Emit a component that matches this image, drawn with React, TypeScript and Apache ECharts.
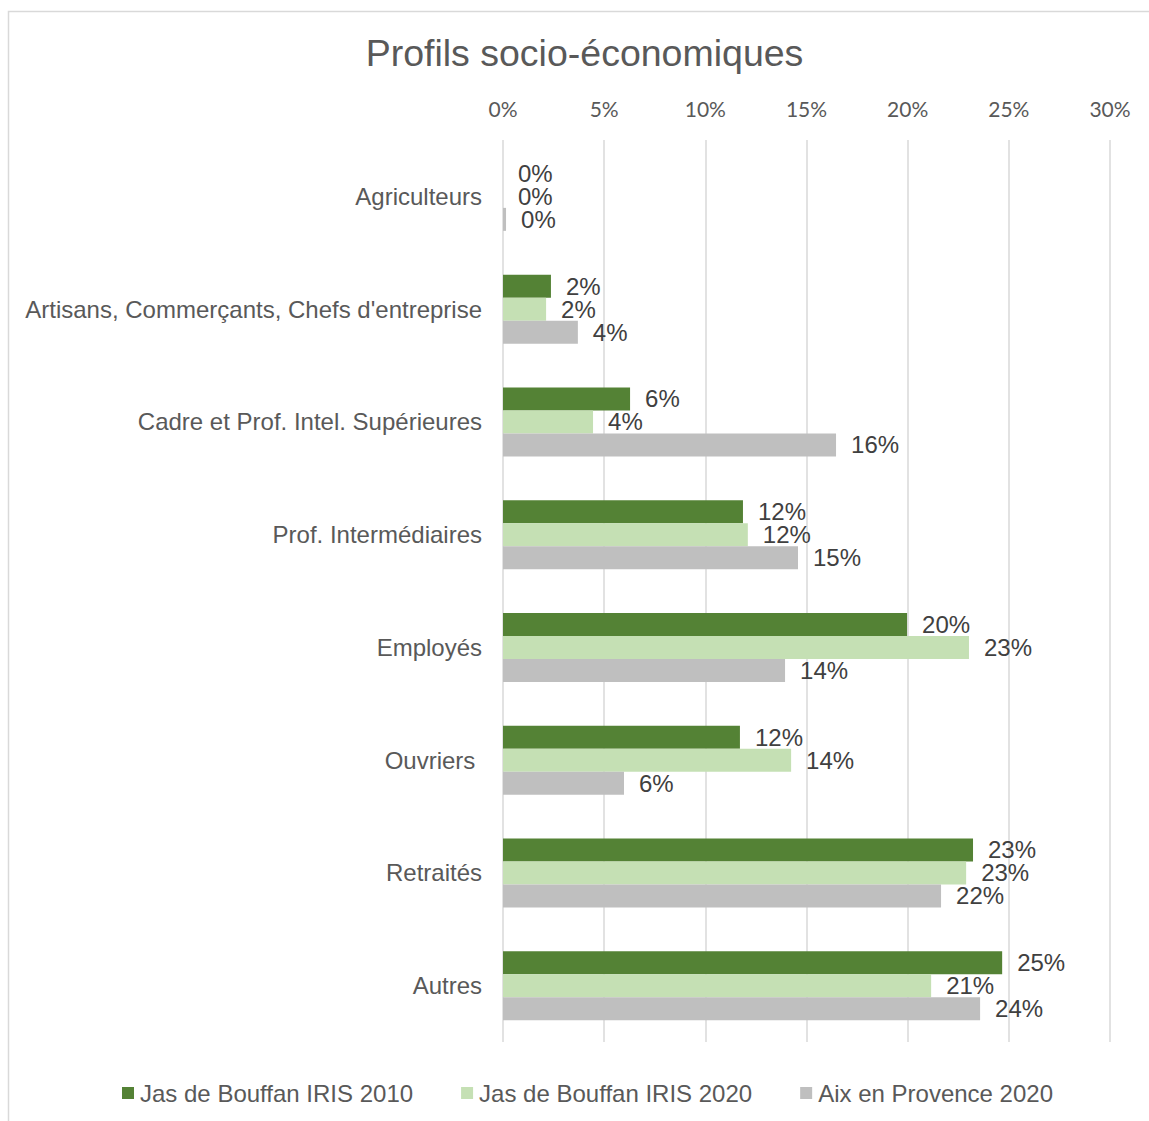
import React, { useEffect, useRef } from "react";
import * as echarts from "echarts";

const title = "Profils socio-économiques";
const categories = [
  "Agriculteurs",
  "Artisans, Commerçants, Chefs d'entreprise",
  "Cadre et Prof. Intel. Supérieures",
  "Prof. Intermédiaires",
  "Employés",
  "Ouvriers ",
  "Retraités",
  "Autres",
];
const seriesNames = ["Jas de Bouffan IRIS 2010", "Jas de Bouffan IRIS 2020", "Aix en Provence 2020"];
const jas2010 = [0, 2.37, 6.28, 11.86, 19.97, 11.71, 23.23, 24.67];
const jas2020 = [0, 2.13, 4.45, 12.1, 23.03, 14.24, 22.89, 21.16];
const aix2020 = [0.15, 3.7, 16.46, 14.58, 13.94, 5.98, 21.65, 23.58];
const colors = ["#548235", "#C5E0B4", "#BFBFBF"];
const axisMin = 0;
const axisMax = 30;
const axisStep = 5;

const FONT = "'Liberation Sans', Arial, sans-serif";

export default function App() {
  const ref = useRef<HTMLDivElement>(null);
  useEffect(() => {
    document.body.style.margin = "0";
    const chart = echarts.init(ref.current!, undefined, { renderer: "svg" });
    const data = [jas2010, jas2020, aix2020];
    chart.setOption({
      animation: false,
      backgroundColor: "#ffffff",
      graphic: [
        {
          type: "rect",
          shape: { x: 8.5, y: 11.5, width: 1300, height: 1300 },
          style: { fill: "none", stroke: "#D9D9D9", lineWidth: 1.5 },
          silent: true,
        },
        {
          type: "text",
          x: 584.5,
          y: 53,
          style: {
            text: title,
            fill: "#595959",
            font: `37.5px ${FONT}`,
            textAlign: "center",
            textVerticalAlign: "middle",
          },
        },
      ],
      grid: { left: 503, top: 140, width: 607, height: 902, containLabel: false },
      legend: {
        data: seriesNames,
        left: 122,
        top: 1081,
        padding: 0,
        icon: "rect",
        itemWidth: 12,
        itemHeight: 12,
        itemGap: 48,
        textStyle: { fontFamily: FONT, fontSize: 24, color: "#595959", padding: [0, 0, 0, 1] },
      },
      xAxis: {
        type: "value",
        position: "top",
        min: axisMin,
        max: axisMax,
        interval: axisStep,
        axisLine: { show: false },
        axisTick: { show: false },
        axisLabel: {
          formatter: (v: number) => `${v}%`,
          color: "#595959",
          fontFamily: "Lato, 'Open Sans', sans-serif",
          fontSize: 21,
          margin: 21,
        },
        splitLine: { show: true, lineStyle: { color: "#D9D9D9", width: 1.5 } },
      },
      yAxis: {
        type: "category",
        inverse: true,
        data: categories,
        axisLine: { show: false },
        axisTick: { show: false },
        axisLabel: { color: "#595959", fontFamily: FONT, fontSize: 24, margin: 21 },
        splitLine: { show: false },
      },
      series: seriesNames.map((name, i) => ({
        name,
        type: "bar",
        data: data[i],
        barWidth: 23,
        barGap: "0%",
        itemStyle: { color: colors[i] },
        label: {
          show: true,
          position: "right",
          distance: 15,
          color: "#404040",
          fontFamily: FONT,
          fontSize: 24,
          formatter: (p: any) => `${Math.round(p.value)}%`,
        },
      })),
    });
    return () => chart.dispose();
  }, []);
  return <div ref={ref} style={{ width: 1149, height: 1121, overflow: "hidden" }} />;
}
